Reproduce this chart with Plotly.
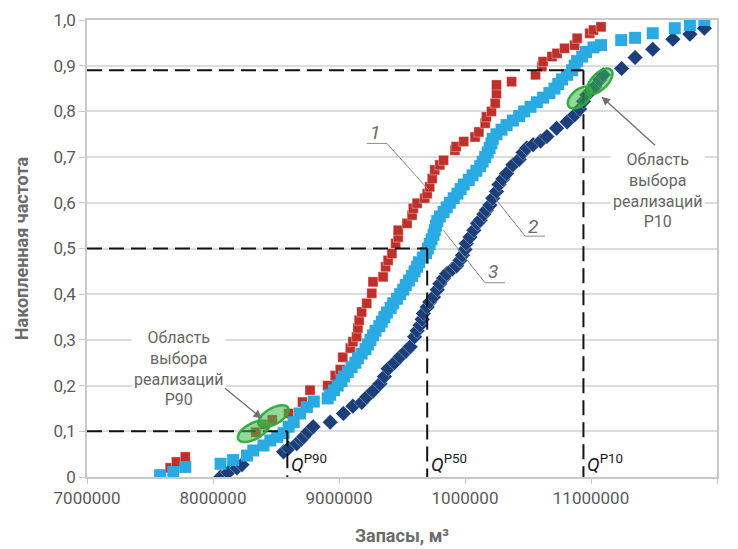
import math
import plotly.graph_objects as go

# ---------------- data (x in millions of m3, y = cumulative frequency) -------------
red_x = [7.66, 7.71, 7.78, 8.34, 8.41, 8.47, 8.60, 8.71, 8.77, 8.91, 8.97, 9.01, 9.03, 9.09,
         9.11, 9.14, 9.15, 9.16, 9.18, 9.22, 9.26, 9.27, 9.35, 9.37, 9.39, 9.42, 9.45, 9.47,
         9.47, 9.54, 9.58, 9.59, 9.62, 9.68, 9.70, 9.72, 9.74, 9.76, 9.80, 9.83, 9.92, 9.93,
         9.99, 10.08, 10.11, 10.16, 10.17, 10.21, 10.24, 10.25, 10.25, 10.37, 10.56, 10.61,
         10.62, 10.69, 10.73, 10.79, 10.87, 10.89, 10.99, 11.02, 11.08]
red_y = [0.020, 0.033, 0.044, 0.098, 0.115, 0.125, 0.139, 0.164, 0.190, 0.200, 0.222, 0.235, 0.262, 0.282,
         0.296, 0.307, 0.326, 0.343, 0.361, 0.380, 0.402, 0.427, 0.438, 0.460, 0.474, 0.489, 0.511, 0.525,
         0.540, 0.555, 0.573, 0.588, 0.599, 0.610, 0.620, 0.635, 0.653, 0.672, 0.683, 0.693, 0.715, 0.723,
         0.734, 0.744, 0.755, 0.774, 0.788, 0.800, 0.818, 0.839, 0.858, 0.865, 0.880, 0.898,
         0.909, 0.920, 0.927, 0.938, 0.945, 0.960, 0.971, 0.978, 0.985]

light_x = [7.58, 7.685, 7.78, 8.06, 8.16, 8.27, 8.32, 8.40, 8.455, 8.51, 8.56, 8.60, 8.64, 8.69,
           8.745, 8.80, 8.91, 8.93, 8.96, 8.99, 9.02, 9.04, 9.07, 9.10, 9.13, 9.15, 9.18, 9.21,
           9.23, 9.25, 9.27, 9.29, 9.32, 9.34, 9.36, 9.38, 9.41, 9.43, 9.46, 9.485, 9.51, 9.53,
           9.555, 9.58, 9.60, 9.62, 9.635, 9.665, 9.69, 9.705, 9.72, 9.735, 9.75, 9.76, 9.77,
           9.78, 9.80, 9.83, 9.855, 9.88, 9.91, 9.94, 9.965, 9.99, 10.03, 10.06, 10.09, 10.12,
           10.14, 10.16, 10.18, 10.195, 10.21, 10.22, 10.25, 10.29, 10.33, 10.38, 10.43, 10.47,
           10.52, 10.57, 10.62, 10.67, 10.71, 10.74, 10.77, 10.81, 10.85, 10.87, 10.89, 10.93,
           10.96, 11.02, 11.08, 11.24, 11.35, 11.49, 11.665, 11.785, 11.90]
light_y = [0.004, 0.011, 0.022, 0.029, 0.037, 0.047, 0.058, 0.069, 0.080, 0.088, 0.096, 0.110, 0.120, 0.139,
           0.153, 0.165, 0.172, 0.180, 0.190, 0.200, 0.210, 0.220, 0.230, 0.240, 0.250, 0.260, 0.270, 0.280,
           0.290, 0.300, 0.310, 0.320, 0.330, 0.340, 0.350, 0.360, 0.370, 0.380, 0.390, 0.400, 0.410, 0.420,
           0.430, 0.440, 0.450, 0.460, 0.470, 0.480, 0.490, 0.500, 0.510, 0.520, 0.530, 0.540, 0.550,
           0.560, 0.570, 0.580, 0.590, 0.600, 0.610, 0.620, 0.630, 0.640, 0.650, 0.660, 0.670, 0.680,
           0.690, 0.700, 0.710, 0.720, 0.730, 0.740, 0.750, 0.760, 0.770, 0.780, 0.790, 0.800,
           0.810, 0.820, 0.830, 0.840, 0.850, 0.860, 0.870, 0.880, 0.890, 0.900, 0.910, 0.920,
           0.930, 0.940, 0.945, 0.956, 0.961, 0.971, 0.982, 0.989, 1.000]

dark_x = [8.06, 8.12, 8.19, 8.23, 8.56, 8.60, 8.665, 8.70, 8.72, 8.755, 8.795, 8.93, 9.035, 9.11,
          9.18, 9.22, 9.27, 9.325, 9.36, 9.39, 9.44, 9.485, 9.53, 9.565, 9.60, 9.62, 9.643, 9.66,
          9.67, 9.70, 9.72, 9.75, 9.78, 9.80, 9.83, 9.855, 9.90, 9.934, 9.96, 9.98, 10.00, 10.01,
          10.04, 10.07, 10.10, 10.12, 10.15, 10.17, 10.198, 10.22, 10.25, 10.27, 10.30, 10.33,
          10.38, 10.43, 10.46, 10.49, 10.54, 10.60, 10.65, 10.727, 10.81, 10.87, 10.91, 10.94,
          10.965, 11.00, 11.03, 11.07, 11.097, 11.243, 11.35, 11.49, 11.65, 11.785, 11.90]
dark_y = [0.000, 0.010, 0.020, 0.027, 0.055, 0.063, 0.073, 0.082, 0.088, 0.099, 0.110, 0.120, 0.139, 0.155,
          0.163, 0.175, 0.188, 0.204, 0.220, 0.237, 0.250, 0.263, 0.275, 0.285, 0.307, 0.320, 0.332, 0.345,
          0.358, 0.372, 0.383, 0.394, 0.410, 0.423, 0.435, 0.445, 0.455, 0.462, 0.474, 0.485, 0.498, 0.511,
          0.525, 0.540, 0.555, 0.562, 0.575, 0.584, 0.595, 0.610, 0.625, 0.640, 0.652, 0.664,
          0.683, 0.695, 0.710, 0.720, 0.727, 0.735, 0.745, 0.763, 0.777, 0.792, 0.805, 0.822,
          0.836, 0.845, 0.854, 0.869, 0.880, 0.894, 0.918, 0.936, 0.958, 0.969, 0.982]

x_tick_vals = [7, 8, 9, 10, 11, 12]
x_tick_text = ["7000000", "8000000", "9000000", "1000000", "11000000", "12000000"]
y_tick_vals = [0, 0.1, 0.2, 0.3, 0.4, 0.5, 0.6, 0.7, 0.8, 0.9, 1.0]
y_tick_text = ["0", "0,1", "0,2", "0,3", "0,4", "0,5", "0,6", "0,7", "0,8", "0,9", "1,0"]

# quantile levels and values
q_levels = [0.1, 0.5, 0.89]
q_values = [8.59, 9.70, 10.94]
q_labels = ["<i>Q</i><sup>P90</sup>", "<i>Q</i><sup>P50</sup>", "<i>Q</i><sup>P10</sup>"]

# ---------------- figure -------------
W, H = 738, 549
ML, MR, MT, MB = 87, 21, 20, 72
PW, PH = W - ML - MR, H - MT - MB
XR, YR = (7, 12), (0, 1)
SX = (XR[1] - XR[0]) / PW   # data per px
SY = (YR[1] - YR[0]) / PH

fig = go.Figure()

fig.add_trace(go.Scatter(x=red_x, y=red_y, mode="markers", name="1",
                         marker=dict(symbol="square", size=10, color="#c0302b",
                                     line=dict(width=0.6, color="rgba(255,255,255,0.6)"))))
fig.add_trace(go.Scatter(x=dark_x, y=dark_y, mode="markers", name="2",
                         marker=dict(symbol="diamond", size=12, color="#1c3f7a",
                                     line=dict(width=0.6, color="rgba(255,255,255,0.6)"))))
fig.add_trace(go.Scatter(x=light_x, y=light_y, mode="markers", name="3",
                         marker=dict(symbol="square", size=12, color="#2aaae2",
                                     line=dict(width=0, color="#2aaae2"))))

shapes = []
dash_line = dict(color="#111111", width=2, dash="15px,7px")
for lvl, val in zip(q_levels, q_values):
    shapes.append(dict(type="line", xref="x", yref="y", x0=XR[0], x1=val, y0=lvl, y1=lvl, line=dash_line))
    shapes.append(dict(type="line", xref="x", yref="y", x0=val, x1=val, y0=lvl, y1=0, line=dash_line))


def ellipse(cx, cy, a, b, ang, n=48):
    t = math.radians(ang)
    pts = []
    for i in range(n):
        s = 2 * math.pi * i / n
        dx = a * math.cos(s) * math.cos(t) - b * math.sin(s) * math.sin(t)
        dy = a * math.cos(s) * math.sin(t) + b * math.sin(s) * math.cos(t)
        pts.append((cx + dx * SX, cy + dy * SY))
    return "M " + " L ".join(f"{x:.5f},{y:.5f}" for x, y in pts) + " Z"


green_fill = "rgba(60,185,70,0.55)"
green_line = "rgba(45,170,60,0.95)"
for cx, cy, a, b, ang in [(8.32, 0.100, 17, 8, 28), (8.48, 0.133, 17, 8, 30),
                          (10.91, 0.830, 14, 8, 40), (11.07, 0.866, 16, 8, 45)]:
    shapes.append(dict(type="path", xref="x", yref="y", path=ellipse(cx, cy, a, b, ang),
                       fillcolor=green_fill, line=dict(color=green_line, width=2.5), layer="above"))

leader = dict(color="#8a8a8a", width=1)
# label 1
shapes.append(dict(type="path", xref="x", yref="y", path="M 9.22,0.730 L 9.38,0.730 L 9.709,0.629", line=leader))
# label 2
shapes.append(dict(type="path", xref="x", yref="y", path="M 10.636,0.527 L 10.477,0.527 L 10.238,0.610", line=leader))
# label 3
shapes.append(dict(type="path", xref="x", yref="y", path="M 10.318,0.425 L 10.159,0.425 L 9.828,0.540", line=leader))

annotations = []
lab_font = dict(family="Roboto", size=19, color="#6a6a6a")
for txt, x, y in [("<i>1</i>", 9.286, 0.753), ("<i>2</i>", 10.542, 0.549), ("<i>3</i>", 10.225, 0.449)]:
    annotations.append(dict(x=x, y=y, xref="x", yref="y", text=txt, showarrow=False, font=lab_font))

q_font = dict(family="Roboto", size=19, color="#1a1a1a")
for val, lab in zip(q_values, q_labels):
    annotations.append(dict(x=val, y=0.03, xref="x", yref="y", text=lab, showarrow=False,
                            xanchor="left", yanchor="middle", xshift=2, font=q_font))

note_font = dict(family="Roboto", size=16, color="#666666")
annotations.append(dict(x=7.726, y=0.238, xref="x", yref="y",
                        text="Область<br>выбора<br>реализаций<br>P90", showarrow=False,
                        font=note_font, bgcolor="white", align="center", borderpad=2))
annotations.append(dict(x=11.524, y=0.627, xref="x", yref="y",
                        text="Область<br>выбора<br>реализаций<br>P10", showarrow=False,
                        font=note_font, bgcolor="white", align="center", borderpad=2))
# arrows
annotations.append(dict(x=8.388, y=0.128, ax=8.083, ay=0.197, xref="x", yref="y", axref="x", ayref="y",
                        text="", showarrow=True, arrowhead=2, arrowsize=1.3, arrowwidth=1.3,
                        arrowcolor="#707070"))
annotations.append(dict(x=11.084, y=0.832, ax=11.52, ay=0.723, xref="x", yref="y", axref="x", ayref="y",
                        text="", showarrow=True, arrowhead=2, arrowsize=1.3, arrowwidth=1.3,
                        arrowcolor="#707070"))

fig.update_layout(
    width=W, height=H,
    margin=dict(l=ML, r=MR, t=MT, b=MB, autoexpand=False),
    paper_bgcolor="white", plot_bgcolor="white",
    showlegend=False,
    shapes=shapes, annotations=annotations,
    xaxis=dict(range=list(XR), tickvals=x_tick_vals, ticktext=x_tick_text, automargin=False,
               showgrid=False, zeroline=False, showline=True, linecolor="#c8c8c8", linewidth=1.5,
               mirror=True, ticks="outside", ticklen=5, tickcolor="#c8c8c8",
               tickfont=dict(family="Roboto", size=17, color="#5a5a5a"),
               title=dict(text="<b>Запасы, м³</b>", font=dict(family="Roboto", size=18, color="#6b6b6b"),
                          standoff=22)),
    yaxis=dict(range=list(YR), tickvals=y_tick_vals, ticktext=y_tick_text, automargin=False,
               showgrid=True, gridcolor="#dcdcdc", gridwidth=1.5, zeroline=False,
               showline=True, linecolor="#c8c8c8", linewidth=1.5, mirror=True,
               ticks="outside", ticklen=6, tickcolor="#c8c8c8",
               tickfont=dict(family="Roboto", size=17, color="#5a5a5a"),
               title=dict(text="<b>Накопленная частота</b>", font=dict(family="Roboto", size=18, color="#6b6b6b"),
                          standoff=20)),
)

fig.write_html("out.html", config={"displayModeBar": False},
               post_script="document.body.style.margin='0';document.body.style.overflow='hidden';")
